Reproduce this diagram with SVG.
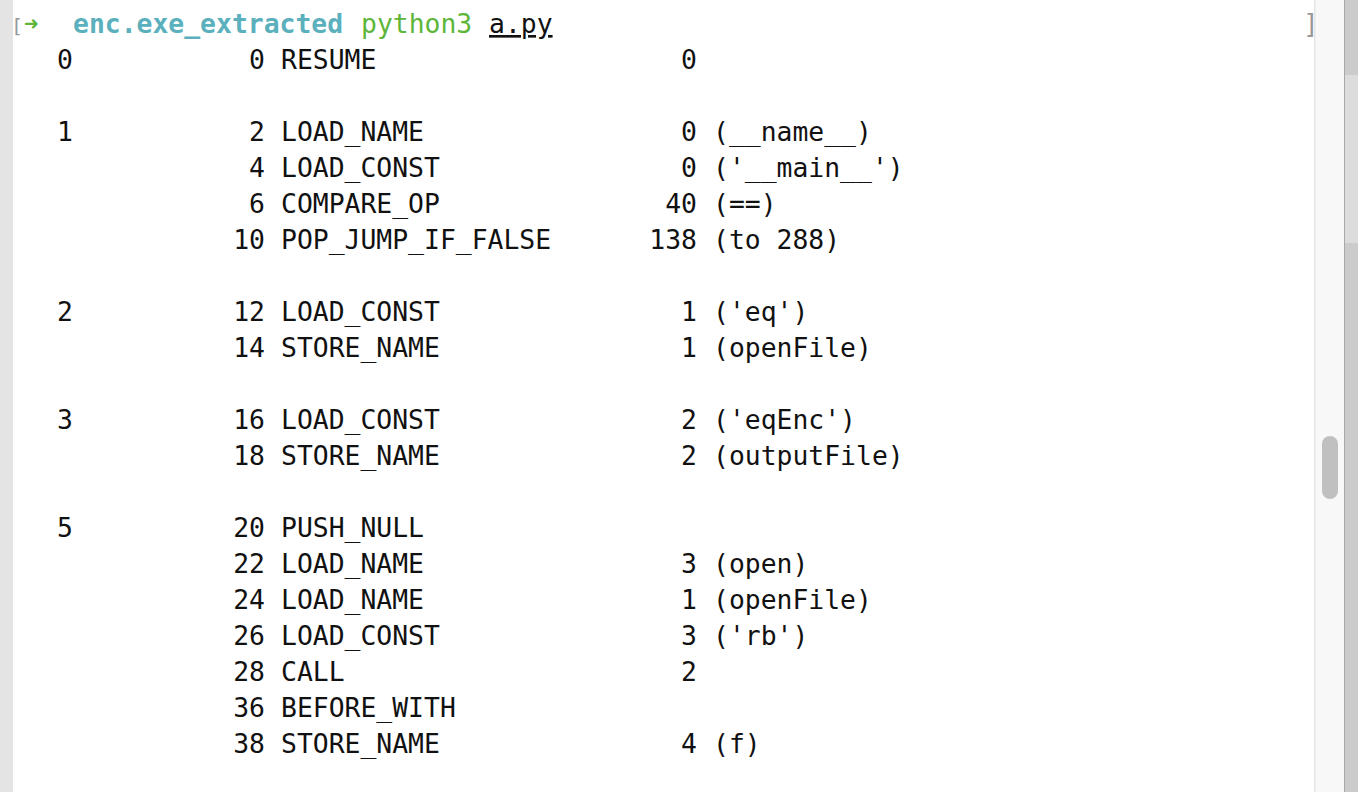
<svg xmlns="http://www.w3.org/2000/svg" width="1358" height="792" viewBox="0 0 1358 792">
<style>
text{font-family:"DejaVu Sans Mono","Liberation Mono",monospace;font-size:26.4px;fill:#111}
.e{text-anchor:end}
</style>
<rect width="1358" height="792" fill="#ffffff"/>
<rect x="0" y="0" width="13" height="792" fill="#e4e4e4"/>
<rect x="1314" y="0" width="30" height="792" fill="#f8f8f8"/>
<rect x="1314" y="0" width="1.5" height="792" fill="#e6e6e6"/>
<rect x="1344" y="0" width="14" height="792" fill="#cbcbcb"/>
<rect x="1344" y="75" width="14" height="168" fill="#dcdcdc"/>
<rect x="1344" y="0" width="1" height="792" fill="#a8a8a8"/>
<rect x="1322" y="436" width="16" height="63" rx="8" fill="#c0c0c0"/>
<g id="prompt">
<text x="11" y="33" style="fill:#999;font-size:20px">[</text>
<text x="1303" y="33" style="fill:#999">]</text>
<text x="24" y="32" style="fill:#5db63a;font-weight:bold;font-size:24px">➜</text>
<text x="73" y="33" style="fill:#5ab0bd;font-weight:bold">enc.exe_extracted</text>
<text x="361" y="33" style="fill:#5db63a">python3</text>
<text x="489" y="33" style="text-decoration:underline">a.py</text>
</g>
<g id="lines">
<text x="57" y="69">0</text><text x="265" y="69" class="e">0</text><text x="281" y="69">RESUME</text><text x="697" y="69" class="e">0</text>
<text x="57" y="141">1</text><text x="265" y="141" class="e">2</text><text x="281" y="141">LOAD_NAME</text><text x="697" y="141" class="e">0</text><text x="713" y="141">(__name__)</text>
<text x="265" y="177" class="e">4</text><text x="281" y="177">LOAD_CONST</text><text x="697" y="177" class="e">0</text><text x="713" y="177">('__main__')</text>
<text x="265" y="213" class="e">6</text><text x="281" y="213">COMPARE_OP</text><text x="697" y="213" class="e">40</text><text x="713" y="213">(==)</text>
<text x="265" y="249" class="e">10</text><text x="281" y="249">POP_JUMP_IF_FALSE</text><text x="697" y="249" class="e">138</text><text x="713" y="249">(to 288)</text>
<text x="57" y="321">2</text><text x="265" y="321" class="e">12</text><text x="281" y="321">LOAD_CONST</text><text x="697" y="321" class="e">1</text><text x="713" y="321">('eq')</text>
<text x="265" y="357" class="e">14</text><text x="281" y="357">STORE_NAME</text><text x="697" y="357" class="e">1</text><text x="713" y="357">(openFile)</text>
<text x="57" y="429">3</text><text x="265" y="429" class="e">16</text><text x="281" y="429">LOAD_CONST</text><text x="697" y="429" class="e">2</text><text x="713" y="429">('eqEnc')</text>
<text x="265" y="465" class="e">18</text><text x="281" y="465">STORE_NAME</text><text x="697" y="465" class="e">2</text><text x="713" y="465">(outputFile)</text>
<text x="57" y="537">5</text><text x="265" y="537" class="e">20</text><text x="281" y="537">PUSH_NULL</text>
<text x="265" y="573" class="e">22</text><text x="281" y="573">LOAD_NAME</text><text x="697" y="573" class="e">3</text><text x="713" y="573">(open)</text>
<text x="265" y="609" class="e">24</text><text x="281" y="609">LOAD_NAME</text><text x="697" y="609" class="e">1</text><text x="713" y="609">(openFile)</text>
<text x="265" y="645" class="e">26</text><text x="281" y="645">LOAD_CONST</text><text x="697" y="645" class="e">3</text><text x="713" y="645">('rb')</text>
<text x="265" y="681" class="e">28</text><text x="281" y="681">CALL</text><text x="697" y="681" class="e">2</text>
<text x="265" y="717" class="e">36</text><text x="281" y="717">BEFORE_WITH</text>
<text x="265" y="753" class="e">38</text><text x="281" y="753">STORE_NAME</text><text x="697" y="753" class="e">4</text><text x="713" y="753">(f)</text>
</g>
</svg>
